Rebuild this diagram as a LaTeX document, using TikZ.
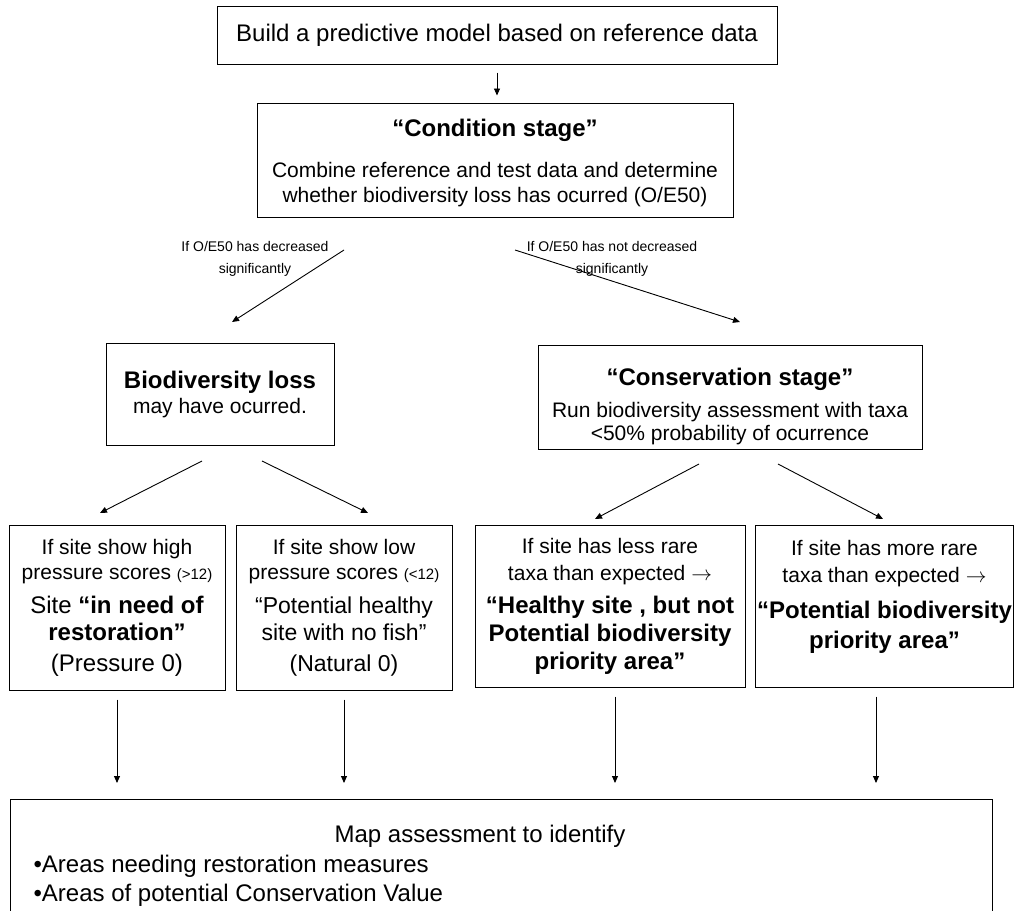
\documentclass[tikz,border=0pt]{standalone}
\usepackage{fontspec}
\setmainfont{Liberation Sans}
\usetikzlibrary{arrows.meta, positioning, calc}
\newcommand{\txtbody}{\fontsize{21}{25}\selectfont}
\newcommand{\txtbig}{\fontsize{24}{28}\selectfont\bfseries}
\newcommand{\txtmid}{\fontsize{23}{28}\selectfont}
\newcommand{\txtsmall}{\fontsize{15}{25}\selectfont}
\tikzset{
  box/.style   = {rectangle, draw=black, line width=1pt, align=center,
                  inner sep=2pt, font=\txtbody},
  lbl/.style   = {align=center, font=\fontsize{14}{22}\selectfont},
  arrow/.style = {-{Triangle[length=7pt, width=6pt]}, line width=0.9pt},
}

\begin{document}
\begin{tikzpicture}[x=1pt, y=-1pt]
  \useasboundingbox (0,0) rectangle (1014,910);

  % ---- Model and condition stage ----
  \node[box, minimum width=560pt, minimum height=58pt,
        font=\fontsize{24}{28}\selectfont] (build) at (497,35)
        {Build a predictive model based on reference data};
  \node[box, minimum width=476pt, minimum height=114pt] (cond) at (495,160)
        {{\txtbig\rule{0pt}{23.5pt}“Condition stage”}\\[16pt]
         Combine reference and test data and determine\\
         whether biodiversity loss has ocurred (O/E50)};

  % ---- Branch labels ----
  \node[lbl] (declbl)   at (255,259) {If O/E50 has decreased\\significantly};
  \node[lbl] (nodeclbl) at (612,259) {If O/E50 has not decreased\\significantly};

  % ---- Second tier ----
  \node[box, minimum width=228pt, minimum height=102pt] (loss) at (220,394)
        {{\txtbig Biodiversity loss}\\may have ocurred.};
  \node[box, minimum width=384pt, minimum height=104pt] (cons) at (730,397)
        {{\txtbig\rule{0pt}{37pt}“Conservation stage”}\\[7pt]
         Run biodiversity assessment with taxa\\[-2pt]
         <50\% probability of ocurrence};

  % ---- Outcome boxes ----
  \node[box, minimum width=216pt, minimum height=165pt] (restore) at (117,607.5)
        {If site show high\\pressure scores {\txtsmall(>12)}\\[9pt]
         {\fontsize{24}{28}\selectfont Site \textbf{“in need of}}\\[2pt]
         {\txtbig restoration”}\\[6pt]
         {\fontsize{24}{28}\selectfont (Pressure 0)}};
  \node[box, minimum width=216pt, minimum height=165pt] (healthy) at (344,607.5)
        {If site show low\\pressure scores {\txtsmall(<12)}\\[9pt]
         {\txtmid “Potential healthy}\\[2pt]
         {\txtmid site with no fish”}\\[6pt]
         {\txtmid (Natural 0)}};
  \node[box, minimum width=270pt, minimum height=162pt] (lessrare) at (610,606)
        {If site has less rare\\[2pt]taxa than expected $\rightarrow$\\[8pt]
         {\txtbig “Healthy site , but not}\\[3pt]
         {\txtbig Potential biodiversity}\\[3pt]
         {\txtbig priority area”}};
  \node[box, minimum width=255pt, minimum height=162pt, text depth=23pt]
        (morerare) at (884.5,606)
        {If site has more rare\\[2pt]taxa than expected $\rightarrow$\\[11pt]
         {\txtbig “Potential biodiversity}\\[5pt]
         {\txtbig priority area”}};

  % ---- Map box ----
  \node[box, minimum width=982pt, minimum height=116pt, anchor=north] (map) at (501,799) {};
  \node[font=\fontsize{24}{29}\selectfont] (maptitle) at (480,836) {Map assessment to identify};
  \node[font=\fontsize{24}{29}\selectfont, align=left, anchor=west] (maplist) at (30,881)
        {•Areas needing restoration measures\\•Areas of potential Conservation Value};

  % ---- Free arrow ends ----
  \coordinate (condL) at (344,250);  \coordinate (lossT)  at (232,322);
  \coordinate (condR) at (515,250);  \coordinate (consT)  at (740,322);
  \coordinate (lossL) at (202,461);  \coordinate (restT)  at (100,513);
  \coordinate (lossR) at (262,461);  \coordinate (hlthT)  at (368,513);
  \coordinate (consL) at (699,464);  \coordinate (lessT)  at (595,519);
  \coordinate (consR) at (778,464);  \coordinate (moreT)  at (883,519);

  % ---- Arrows ----
  \draw[arrow, shorten <=8pt, shorten >=7pt] (build.south) -- (build.south |- cond.north);
  \draw[arrow] (condL) -- (lossT);
  \draw[arrow] (condR) -- (consT);
  \draw[arrow] (lossL) -- (restT);
  \draw[arrow] (lossR) -- (hlthT);
  \draw[arrow] (consL) -- (lessT);
  \draw[arrow] (consR) -- (moreT);
  \foreach \b/\dx in {restore/0, healthy/0, lessrare/5, morerare/-8.5}
    \draw[arrow, shorten <=9pt, shorten >=16pt]
      ([xshift=\dx pt]\b.south) -- ([xshift=\dx pt]\b.south |- map.north);

\end{tikzpicture}
\end{document}
